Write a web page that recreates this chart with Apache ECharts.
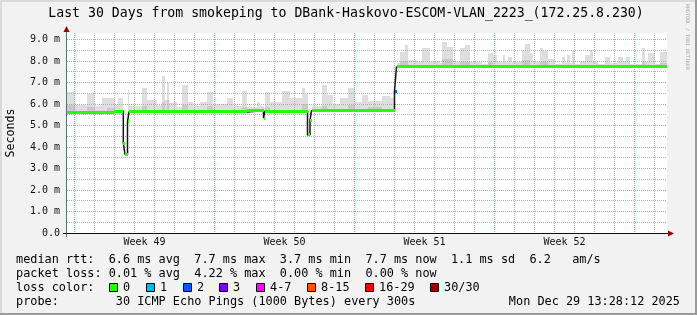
<!DOCTYPE html>
<html><head><meta charset="utf-8">
<script src="https://cdn.jsdelivr.net/npm/echarts@6/dist/echarts.min.js"></script>
<style>html,body{margin:0;padding:0;background:#f2f2f2}#c{width:697px;height:315px}</style>
</head><body><div id="c"></div>
<script>
// ---------------- DATA ----------------
// x unit = one RRD pixel step (72 min) from the start of the 30 day window
const titleText = 'Last 30 Days from smokeping to DBank-Haskovo-ESCOM-VLAN_2223_(172.25.8.230)';
const weekLabels = ['Week 49', 'Week 50', 'Week 51', 'Week 52'];
const weekLabelPos = [77.5, 217.5, 357.5, 497.5];
const weekLines = [7.5, 147.5, 287.5, 427.5, 567.5];
const dayLines = [27.5, 47.5, 67.5, 87.5, 107.5, 127.5, 167.5, 187.5, 207.5, 227.5, 247.5, 267.5,
  307.5, 327.5, 347.5, 367.5, 387.5, 407.5, 447.5, 467.5, 487.5, 507.5, 527.5, 547.5, 587.5];
const halfLines = [0.5, 1.5, 2.5, 3.5, 4.5, 5.5, 6.5, 7.5, 8.5];
// [start, end, median (ms), loss colour index]
const medianSegs = [
  [0, 47, 5.61, 0], [47, 56.3, 5.67, 0], [56.3, 58, 4.18, 0], [58, 60.5, 3.66, 0],
  [60.5, 62, 5.18, 0], [62, 180, 5.63, 0], [180, 196.5, 5.69, 0], [196.5, 198, 5.34, 0],
  [198, 240.5, 5.67, 0], [240.5, 243, 4.56, 0], [243, 244.5, 5.24, 0], [244.5, 327.5, 5.69, 0],
  [327.5, 329.5, 6.60, 2], [329.5, 600, 7.72, 0]
];
// [start, end, top (ms)] light smoke
const smokeLight = [
  [0, 8, 6.57], [8, 20, 5.95], [20, 28, 6.46], [28, 35, 5.9], [35, 48, 6.28], [48, 51, 5.95], [51, 56.3, 6.3],
  [60.5, 62, 6.65], [62, 75, 5.9], [75, 80, 6.72], [80, 90, 6.2], [90, 95, 5.95], [95, 98, 7.31], [98, 100, 6.2],
  [100, 102, 6.98], [102, 106, 6.05], [106, 110, 6.1], [110, 115, 5.85], [115, 121, 6.88], [121, 126, 6.1],
  [126, 133, 5.9], [133, 140, 6.1], [140, 146, 6.57], [146, 160, 6.0], [160, 166, 6.3], [166, 175, 5.9],
  [175, 180, 6.6], [180, 190, 5.85], [190, 193, 6.1], [193, 196.5, 5.9], [198, 203, 6.57], [203, 215, 6.1],
  [215, 223, 6.6], [223, 235, 6.3], [235, 238, 6.72], [238, 240.5, 6.45], [244.5, 255, 5.9], [255, 260, 6.88],
  [260, 266, 6.43], [266, 273, 6.0], [273, 281, 6.3], [281, 288, 6.72], [288, 295, 6.1], [295, 301, 6.43],
  [301, 315, 6.15], [315, 323, 6.35], [323, 327.5, 6.3],
  [330, 333, 7.9], [333, 338, 8.42], [338, 341, 8.73], [341, 350, 8.04], [350, 355, 7.95], [355, 363, 8.58],
  [363, 373, 8.0], [373, 375, 7.9], [375, 380, 8.89], [380, 386, 8.65], [386, 393, 7.95], [393, 398, 8.58],
  [398, 403, 8.73], [403, 415, 7.94], [415, 421, 7.88], [421, 426, 8.35], [426, 430, 8.3], [430, 436, 7.93],
  [436, 438, 8.3], [438, 441, 7.93], [441, 445, 8.2], [445, 455, 7.93], [455, 458, 8.5], [458, 463, 8.77],
  [463, 466, 8.35], [466, 473, 7.93], [473, 476, 8.58], [476, 481, 8.45], [481, 488, 8.1], [488, 495, 7.88],
  [495, 498, 8.2], [498, 500, 7.9], [500, 503, 8.3], [503, 505, 7.9], [505, 508, 8.45], [508, 513, 7.88],
  [513, 518, 8.0], [518, 523, 8.3], [523, 526, 8.5], [526, 531, 8.0], [531, 538, 7.88], [538, 543, 8.2],
  [543, 551, 7.9], [551, 556, 8.2], [556, 559, 8.0], [559, 563, 8.2], [563, 575, 7.88], [575, 578, 8.58],
  [578, 581, 7.96], [581, 588, 8.35], [588, 593, 7.88], [593, 600, 8.4]
];
// [start, end, top (ms)] denser smoke near the median
const smokeDark = [
  [0, 8, 5.95], [20, 28, 5.85], [40, 48, 5.8], [75, 80, 5.9], [95, 98, 6.1], [100, 102, 6.2],
  [115, 121, 5.95], [140, 146, 5.9], [175, 180, 5.85], [198, 203, 5.85], [235, 240.5, 6.0],
  [255, 260, 5.9], [281, 288, 5.95], [301, 315, 5.85], [333, 341, 8.0], [375, 386, 8.1],
  [393, 403, 7.95], [421, 426, 7.95], [455, 463, 8.05], [473, 481, 7.95], [575, 578, 7.95], [593, 600, 7.9]
];
const lossColors = ['#26ff00', '#00b8ff', '#0059ff', '#7e00ff', '#ff00ff', '#ff5500', '#ff0000', '#a10000'];
const lossLabels = ['0', '1', '2', '3', '4-7', '8-15', '16-29', '30/30'];
const legendRows = [
  'median rtt:  6.6 ms avg  7.7 ms max  3.7 ms min  7.7 ms now  1.1 ms sd  6.2   am/s',
  'packet loss: 0.01 % avg  4.22 % max  0.00 % min  0.00 % now',
  'loss color:',
  'probe:        30 ICMP Echo Pings (1000 Bytes) every 300s'
];
const dateText = 'Mon Dec 29 13:28:12 2025';
const sideText = 'RRDTOOL / TOBI OETIKER';

// ---------------- LAYOUT ----------------
const MONO = '"DejaVu Sans Mono", monospace';
const lossBoxX = [109, 146, 183, 219, 256, 307, 365, 430];
const rowY = [259.5, 273.5, 287.5, 301.5];
const RED = '#ee9090', GREY = '#b4b4b4';
const X_MIN = 0, X_MAX = 600, Y_MIN = 0, Y_MAX = 9.3;

function medianAt(t) {
  for (const s of medianSegs) if (t >= s[0] && t < s[1]) return s[2];
  return medianSegs[medianSegs.length - 1][2];
}
function smokeRender(color) {
  return function (params, api) {
    const t0 = api.value(0), t1 = api.value(1), top = api.value(2);
    const base = medianAt(t0);
    const a = api.coord([t0, top]), b = api.coord([t1, base]);
    const x0 = Math.round(a[0]), x1 = Math.round(b[0]);
    return { type: 'rect', shape: { x: x0, y: Math.round(a[1]), width: x1 - x0, height: Math.round(b[1]) - Math.round(a[1]) },
      style: { fill: color } };
  };
}
function vGridRender(color) {
  return function (params, api) {
    const v = api.value(0);
    const a = api.coord([v, Y_MAX]), b = api.coord([v, Y_MIN]);
    const x = Math.floor(a[0]) + 0.5;
    return { type: 'line', shape: { x1: x, y1: a[1], x2: x, y2: b[1] }, style: { stroke: color, lineWidth: 1, lineDash: [1, 1] } };
  };
}
function hGridRender(color) {
  return function (params, api) {
    const v = api.value(0);
    const a = api.coord([X_MIN, v]), b = api.coord([X_MAX, v]);
    const y = Math.floor(a[1]) + 0.5;
    return { type: 'line', shape: { x1: a[0], y1: y, x2: b[0], y2: y }, style: { stroke: color, lineWidth: 1, lineDash: [1, 1] } };
  };
}

const medianPts = medianSegs.map(s => [s[0], s[2]]);
medianPts.push([medianSegs[medianSegs.length - 1][1], medianSegs[medianSegs.length - 1][2]]);

const graphics = [
  { type: 'rect', shape: { x: 0, y: 0, width: 697, height: 2 }, style: { fill: '#dadada' }, z: 10 },
  { type: 'rect', shape: { x: 0, y: 0, width: 2, height: 315 }, style: { fill: '#dadada' }, z: 10 },
  { type: 'rect', shape: { x: 695, y: 0, width: 2, height: 315 }, style: { fill: '#9a9a9a' }, z: 10 },
  { type: 'rect', shape: { x: 0, y: 313, width: 697, height: 2 }, style: { fill: '#9a9a9a' }, z: 10 },
  { type: 'text', x: 346, y: 14, style: { text: titleText, font: '13.2px ' + MONO, fill: '#000', textAlign: 'center', textVerticalAlign: 'middle' }, z: 10 },
  { type: 'text', x: 10.5, y: 133, rotation: Math.PI / 2, style: { text: 'Seconds', font: '11.6px ' + MONO, fill: '#000', textAlign: 'center', textVerticalAlign: 'middle' }, z: 10 },
  { type: 'text', x: 687.5, y: 37, rotation: -Math.PI / 2, style: { text: sideText, font: '5px ' + MONO, fill: '#a8a8a8', textAlign: 'center', textVerticalAlign: 'middle' }, z: 10 },
  // axes
  { type: 'line', shape: { x1: 66.5, y1: 31, x2: 66.5, y2: 237 }, style: { stroke: '#6a6a6a', lineWidth: 1 }, z: 20 },
  { type: 'line', shape: { x1: 63, y1: 233.5, x2: 669, y2: 233.5 }, style: { stroke: '#111', lineWidth: 1 }, z: 20 },
  { type: 'polygon', shape: { points: [[668, 230.5], [674, 233.5], [668, 236.5]] }, style: { fill: '#9a0000' }, z: 21 },
  { type: 'polygon', shape: { points: [[63.5, 32], [66.5, 26], [69.5, 32]] }, style: { fill: '#9a0000' }, z: 21 },
  { type: 'text', x: 680, y: rowY[3], style: { text: dateText, font: '11.85px ' + MONO, fill: '#000', textAlign: 'right', textVerticalAlign: 'middle' }, z: 10 }
];
legendRows.forEach((r, i) => graphics.push({ type: 'text', x: 16, y: rowY[i], style: { text: r, font: '11.85px ' + MONO, fill: '#000', textAlign: 'left', textVerticalAlign: 'middle' }, z: 10 }));
lossLabels.forEach((l, i) => {
  graphics.push({ type: 'rect', shape: { x: lossBoxX[i] + 0.5, y: 283.5, width: 8, height: 8 }, style: { fill: lossColors[i], stroke: '#000', lineWidth: 1 }, z: 10 });
  graphics.push({ type: 'text', x: lossBoxX[i] + 14, y: rowY[2], style: { text: l, font: '11.85px ' + MONO, fill: '#000', textAlign: 'left', textVerticalAlign: 'middle' }, z: 10 });
});

const chart = echarts.init(document.getElementById('c'), null, { renderer: 'canvas' });
chart.setOption({
  animation: false,
  backgroundColor: '#f2f2f2',
  grid: { left: 67, right: 30, top: 33, bottom: 82, show: true, backgroundColor: '#ffffff', borderWidth: 0, outerBoundsMode: 'none' },
  xAxis: {
    type: 'value', min: X_MIN, max: X_MAX,
    axisLine: { show: false }, axisTick: { show: false }, splitLine: { show: false },
    axisLabel: { customValues: weekLabelPos, formatter: v => { const i = weekLabelPos.indexOf(v); return i >= 0 ? weekLabels[i] : ''; },
      fontSize: 10, fontFamily: MONO, color: '#111', margin: 4 }
  },
  yAxis: {
    type: 'value', min: Y_MIN, max: Y_MAX, interval: 1, z: 3,
    axisLine: { show: false }, axisTick: { show: false },
    splitLine: { show: true, showMinLine: false, showMaxLine: false, lineStyle: { color: RED, type: [1, 1], width: 1 } },
    axisLabel: { showMaxLabel: false, formatter: v => v === 0 ? '0.0' : v.toFixed(1) + ' m', fontSize: 10, fontFamily: MONO, color: '#111', margin: 7 }
  },
  series: [
    { type: 'custom', name: 'smoke', z: 1, clip: true, renderItem: smokeRender('#dedede'), data: smokeLight },
    { type: 'custom', name: 'smokeDark', z: 1, clip: true, renderItem: smokeRender('#c9c9c9'), data: smokeDark },
    { type: 'custom', name: 'dayGrid', z: 2, silent: true, renderItem: vGridRender(GREY), data: dayLines.map(v => [v]) },
    { type: 'custom', name: 'halfGrid', z: 2, silent: true, renderItem: hGridRender(GREY), data: halfLines.map(v => [v]) },
    { type: 'custom', name: 'weekGrid', z: 4, silent: true, renderItem: vGridRender(RED), data: weekLines.map(v => [v]) },
    { type: 'line', name: 'median', z: 5, step: 'end', showSymbol: false, data: medianPts,
      lineStyle: { color: '#151515', width: 1.5 } },
    { type: 'custom', name: 'loss', z: 6, clip: true, data: medianSegs,
      renderItem: (params, api) => {
        const t0 = api.value(0), t1 = api.value(1), v = api.value(2), li = api.value(3);
        const a = api.coord([t0, v]), b = api.coord([t1, v]);
        const x0 = Math.round(a[0]), x1 = Math.round(b[0]);
        return { type: 'rect', shape: { x: x0, y: Math.round(a[1] - 1.5), width: Math.max(1, x1 - x0), height: 3 }, style: { fill: lossColors[li] } };
      } }
  ],
  graphic: graphics
});
</script></body></html>
